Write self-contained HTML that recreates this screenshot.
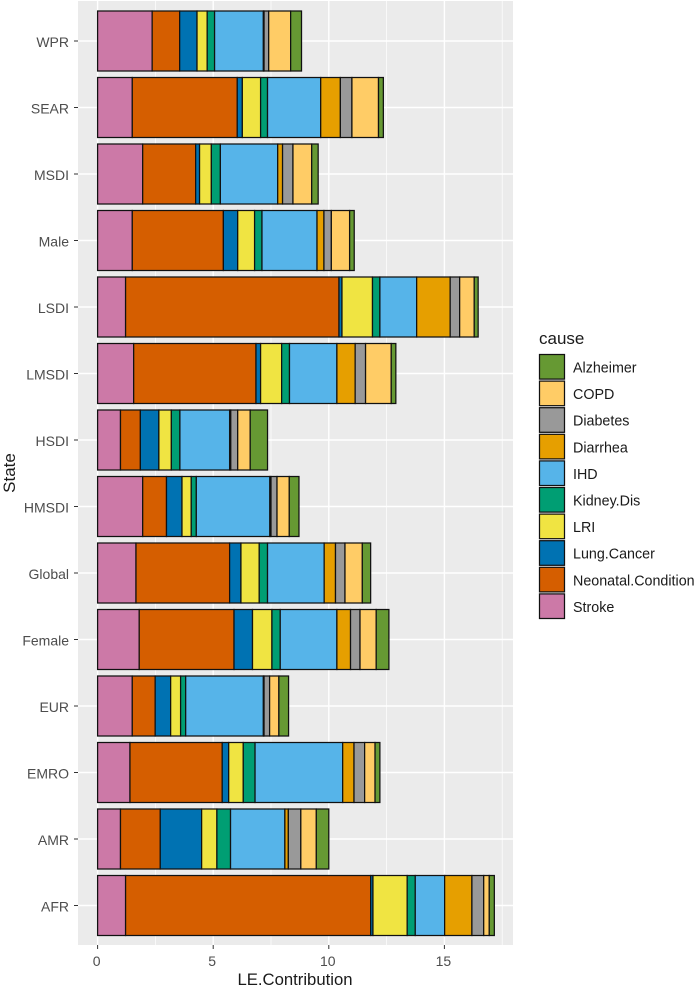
<!DOCTYPE html>
<html>
<head>
<meta charset="utf-8">
<style>
html,body{margin:0;padding:0;background:#fff;width:697px;height:987px;overflow:hidden}
svg{display:block;filter:blur(0.3px)}
text{font-family:"Liberation Sans",Arial,sans-serif}
</style>
</head>
<body>
<svg id="chart" xmlns="http://www.w3.org/2000/svg" width="697" height="987" viewBox="0 0 697 987"></svg>
<script>
const states = ["WPR","SEAR","MSDI","Male","LSDI","LMSDI","HSDI","HMSDI","Global","Female","EUR","EMRO","AMR","AFR"];
const stackOrder = ["Stroke","Neonatal.Condition","Lung.Cancer","LRI","Kidney.Dis","IHD","Diarrhea","Diabetes","COPD","Alzheimer"];
const legendOrder = ["Alzheimer","COPD","Diabetes","Diarrhea","IHD","Kidney.Dis","LRI","Lung.Cancer","Neonatal.Condition","Stroke"];
const xTicks = [0,5,10,15];
const xMinorTicks = [2.5,7.5,12.5,17.5];
const stroke = [2.36,1.50,1.95,1.50,1.21,1.56,0.99,1.95,1.66,1.80,1.50,1.40,0.99,1.21];
const neonatal = [1.19,4.54,2.29,3.94,9.23,5.29,0.86,1.03,4.05,4.10,0.99,3.99,1.72,10.60];
const lungCancer = [0.75,0.22,0.17,0.62,0.13,0.20,0.80,0.67,0.49,0.80,0.67,0.28,1.79,0.10];
const lri = [0.44,0.79,0.51,0.73,1.32,0.91,0.54,0.40,0.79,0.84,0.43,0.63,0.66,1.48];
const kidneyDis = [0.32,0.30,0.39,0.32,0.32,0.34,0.37,0.22,0.36,0.36,0.22,0.51,0.59,0.35];
const ihd = [2.11,2.30,2.48,2.38,1.59,2.05,2.15,3.18,2.45,2.45,3.36,3.79,2.35,1.27];
const diarrhea = [0.03,0.85,0.21,0.30,1.45,0.79,0.05,0.05,0.49,0.59,0.03,0.49,0.15,1.18];
const diabetes = [0.20,0.50,0.45,0.32,0.41,0.45,0.30,0.26,0.41,0.41,0.24,0.46,0.54,0.51];
const copd = [0.95,1.15,0.81,0.79,0.63,1.11,0.54,0.53,0.75,0.70,0.40,0.45,0.67,0.24];
const alzheimer = [0.47,0.21,0.28,0.20,0.17,0.20,0.75,0.42,0.36,0.55,0.42,0.21,0.54,0.22];

const seriesByCause = {"Stroke":stroke,"Neonatal.Condition":neonatal,"Lung.Cancer":lungCancer,"LRI":lri,"Kidney.Dis":kidneyDis,"IHD":ihd,"Diarrhea":diarrhea,"Diabetes":diabetes,"COPD":copd,"Alzheimer":alzheimer};
const colorByCause = {"Stroke":"#CC79A7","Neonatal.Condition":"#D55E00","Lung.Cancer":"#0072B2","LRI":"#F0E442","Kidney.Dis":"#009E73","IHD":"#56B4E9","Diarrhea":"#E69F00","Diabetes":"#999999","COPD":"#FFCC66","Alzheimer":"#669933"};

const svg = document.getElementById('chart');
const NS = 'http://www.w3.org/2000/svg';
const panel = {left:78, right:513, top:1, bottom:945};
const xScale = v => 97.6 + v * 23.12;
const yScale = i => 41 + i * 66.5;
const BAR_H = 60;

function add(tag, attrs, parent){
  const el = document.createElementNS(NS, tag);
  for (const k in attrs) el.setAttribute(k, attrs[k]);
  (parent || svg).appendChild(el);
  return el;
}

let el = add('rect', {x:panel.left, y:panel.top, width:panel.right-panel.left, height:panel.bottom-panel.top, fill:'#EBEBEB'});



xMinorTicks.forEach(t => {
  const g = add('line', {x1:xScale(t), x2:xScale(t), y1:panel.top, y2:panel.bottom, stroke:'#fff', 'stroke-width':0.7});
  
  
});
xTicks.forEach(t => {
  const g = add('line', {x1:xScale(t), x2:xScale(t), y1:panel.top, y2:panel.bottom, stroke:'#fff', 'stroke-width':1.4});
  
  
  const tk = add('line', {x1:xScale(t), x2:xScale(t), y1:panel.bottom, y2:panel.bottom+4, stroke:'#333', 'stroke-width':1});
  
  
  const lb = add('text', {x:xScale(t)-1, y:966, 'text-anchor':'middle', 'font-size':14, fill:'#4D4D4D'});
  lb.textContent = t;
  
  
});

states.forEach((s, i) => {
  const y = yScale(i);
  const g = add('line', {x1:panel.left, x2:panel.right, y1:y, y2:y, stroke:'#fff', 'stroke-width':1.4});
  
  
  const tk = add('line', {x1:panel.left-4, x2:panel.left, y1:y, y2:y, stroke:'#333', 'stroke-width':1});
  
  
  const lb = add('text', {x:69, y:y+6, 'text-anchor':'end', 'font-size':14, fill:'#4D4D4D'});
  lb.textContent = s;
  
  
});

states.forEach((s, i) => {
  let cum = 0;
  stackOrder.forEach(c => {
    const v = seriesByCause[c][i];
    const r = add('rect', {x:xScale(cum), y:yScale(i)-BAR_H/2, width:xScale(cum+v)-xScale(cum), height:BAR_H, fill:colorByCause[c], stroke:'#111', 'stroke-width':1.25});
    
    
    cum += v;
  });
});

el = add('text', {x:295, y:985, 'text-anchor':'middle', 'font-size':16.7, fill:'#1a1a1a'});
el.textContent = 'LE.Contribution';



el = add('text', {x:0, y:0, transform:'translate(15 473) rotate(-90)', 'text-anchor':'middle', 'font-size':17, fill:'#1a1a1a'});
el.textContent = 'State';



el = add('text', {x:539, y:344, 'font-size':17, fill:'#1a1a1a'});
el.textContent = 'cause';



legendOrder.forEach((c, i) => {
  const y = 354.5 + i * 26.6;
  const k = add('rect', {x:539.5, y:y, width:25, height:24.6, fill:colorByCause[c], stroke:'#111', 'stroke-width':1.25});
  
  
  const t = add('text', {x:573, y:y+18, 'font-size':14.3, fill:'#1a1a1a'});
  t.textContent = c;
  
  
});
</script>
</body>
</html>
